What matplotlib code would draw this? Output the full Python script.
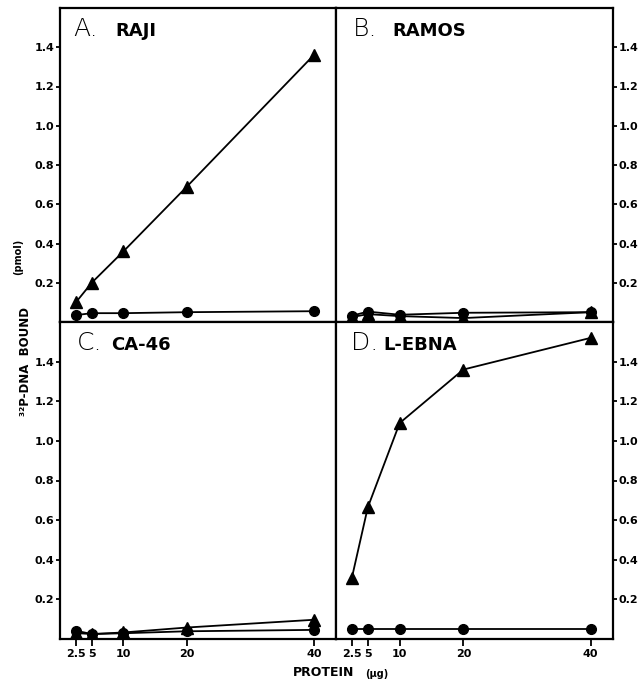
import matplotlib
matplotlib.use("Agg")
import matplotlib.pyplot as plt

# ---- data ----
protein = [2.5, 5, 10, 20, 40]
xtick_labels = ["2.5", "5", "10", "20", "40"]
yticks = [0.2, 0.4, 0.6, 0.8, 1.0, 1.2, 1.4]
ytick_labels = ["0.2", "0.4", "0.6", "0.8", "1.0", "1.2", "1.4"]

raji_tri = [0.10, 0.20, 0.36, 0.69, 1.36]
raji_circ = [0.035, 0.045, 0.045, 0.05, 0.055]
ramos_tri = [0.025, 0.04, 0.03, 0.02, 0.05]
ramos_circ = [0.032, 0.053, 0.037, 0.047, 0.05]
ca46_tri = [0.03, 0.025, 0.033, 0.058, 0.097]
ca46_circ = [0.042, 0.025, 0.029, 0.039, 0.046]
lebna_tri = [0.31, 0.665, 1.09, 1.36, 1.52]
lebna_circ = [0.048, 0.048, 0.048, 0.048, 0.048]

panels = [
    ("A.", "RAJI", raji_tri, raji_circ),
    ("B.", "RAMOS", ramos_tri, ramos_circ),
    ("C.", "CA-46", ca46_tri, ca46_circ),
    ("D.", "L-EBNA", lebna_tri, lebna_circ),
]

W, H = 639, 682
fig = plt.figure(figsize=(W / 100, H / 100), dpi=100)

xl, xm, xr = 60 / W, 336 / W, 613 / W
yb, ym, yt = 1 - 639 / H, 1 - 322 / H, 1 - 8 / H
rects = [
    (xl, ym, xm - xl, yt - ym),
    (xm, ym, xr - xm, yt - ym),
    (xl, yb, xm - xl, ym - yb),
    (xm, yb, xr - xm, ym - yb),
]
name_x = [0.20, 0.205, 0.187, 0.17]
letter_x = [0.047, 0.06, 0.06, 0.054]

for i, (rect, (letter, name, tri, circ)) in enumerate(zip(rects, panels)):
    ax = fig.add_axes(rect)
    ax.plot(protein, circ, color="black", lw=1.3, marker="o", ms=7, zorder=3)
    ax.plot(protein, tri, color="black", lw=1.3, marker="^", ms=8, zorder=3)
    ax.set_xlim(0, 43.5)
    ax.set_ylim(0, 1.6)
    for s in ax.spines.values():
        s.set_linewidth(1.6)
    ax.set_xticks(protein)
    right = i in (1, 3)
    bottom = i in (2, 3)
    if bottom:
        ax.set_xticklabels(xtick_labels, fontsize=8, fontweight="bold")
    else:
        ax.set_xticklabels([])
    ax.tick_params(axis="x", direction="out", length=5, width=1.3, pad=2)
    ax.set_yticks(yticks)
    ax.set_yticklabels(ytick_labels, fontsize=8, fontweight="bold")
    ax.tick_params(axis="y", direction="out", length=3, width=1.3, pad=1)
    if right:
        ax.yaxis.tick_right()
    ax.text(letter_x[i], 0.912, letter, transform=ax.transAxes, fontsize=18,
            fontweight="light", va="baseline", ha="left")
    ax.text(name_x[i], 0.912, name, transform=ax.transAxes, fontsize=13,
            fontweight="bold", va="baseline", ha="left")

fig.text(26 / W, 1 - 362 / H, "³²P-DNA  BOUND", rotation=90, ha="center",
         va="center", fontsize=8.5, fontweight="bold")
fig.text(18 / W, 1 - 257 / H, "(pmol)", rotation=90, ha="center",
         va="center", fontsize=7, fontweight="bold")
fig.text(324 / W, 1 - 672 / H, "PROTEIN", ha="center", va="center",
         fontsize=9, fontweight="bold")
fig.text(377 / W, 1 - 674 / H, "(μg)", ha="center", va="center",
         fontsize=7, fontweight="bold")

fig.savefig("out.png", dpi=100)
